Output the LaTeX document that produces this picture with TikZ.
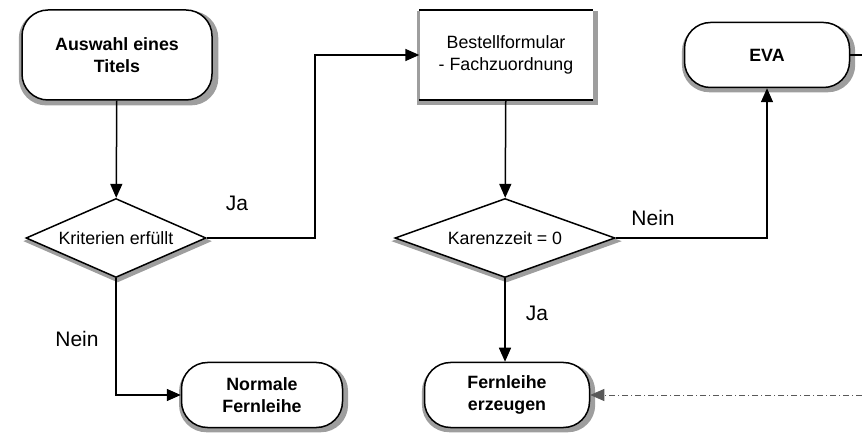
\documentclass[tikz,border=0pt]{standalone}
\usepackage{fontspec}
\setmainfont{Liberation Sans}
\usetikzlibrary{shapes.geometric,arrows.meta,shadows}

\begin{document}
\begin{tikzpicture}[x=1pt,y=-1pt,
  schatten/.style={drop shadow={shadow xshift=1.5pt,shadow yshift=-3pt,shadow scale=1.05,fill=black!38,opacity=1}},
  terminal/.style={draw,line width=1.5pt,fill=white,rounded corners=26pt,align=center,
    inner sep=0pt,font=\fontsize{17.8}{22}\selectfont\bfseries,schatten},
  prozess/.style={fill=white,align=center,inner sep=0pt,
    font=\fontsize{17.8}{22}\selectfont,schatten},
  entscheid/.style={diamond,draw,line width=1.5pt,fill=white,inner sep=0pt,
    font=\fontsize{17.8}{22}\selectfont,schatten},
  marke/.style={font=\fontsize{21}{25}\selectfont},
  flow/.style={line width=1.5pt,-{Triangle[length=14pt,width=12pt]}},
  dotflow/.style={line width=0.8pt,black!65,dash pattern=on 6pt off 3pt on 1pt off 3pt,
    -{Triangle[length=14pt,width=12pt]}}]
\useasboundingbox (0,0) rectangle (862,435);

% Knoten
\node[terminal,minimum width=190pt,minimum height=90pt] (auswahl) at (117,55) {Auswahl eines\\Titels};
\node[prozess,minimum width=173pt,minimum height=90pt] (bestell) at (506,55) {Bestellformular\\- Fachzuordnung};
\draw[line width=1.5pt] (bestell.north west) -- (bestell.north east);
\draw[line width=1.5pt] (bestell.south west) -- (bestell.south east);
\node[terminal,minimum width=165pt,minimum height=65pt] (eva) at (767,55) {EVA};
\node[entscheid,aspect=2.28,minimum width=180pt,minimum height=79pt] (krit) at (116,238) {Kriterien erfüllt};
\node[entscheid,aspect=2.78,minimum width=220pt,minimum height=79pt] (karenz) at (505,238) {Karenzzeit = 0};
\node[terminal,minimum width=161pt,minimum height=65pt] (normal) at (262,395) {Normale\\Fernleihe};
\node[terminal,minimum width=165pt,minimum height=65pt] (fern) at (507,395) {Fernleihe\\erzeugen};

% Beschriftungen
\node[marke] (jaeins) at (237,203) {Ja};
\node[marke] (neineins) at (77,339) {Nein};
\node[marke] (neinzwei) at (653,218) {Nein};
\node[marke] (jazwei) at (537,313) {Ja};

% Pfeile
\coordinate (randeva) at (862,55);
\coordinate (randfern) at (862,395);
\draw[flow] (auswahl) -- (krit);
\draw[flow] (krit.east) -- ++(108,0) |- (bestell.west);
\draw[flow] (bestell) -- (karenz);
\draw[flow] (karenz.east) -| (eva.south);
\draw[flow] (karenz.south) -- (karenz.south |- fern.north);
\draw[flow] (krit.south) |- (normal.west);
\draw[line width=1.5pt] (eva.east) -- (randeva);
\draw[dotflow] (randfern) -- (fern.east);
\end{tikzpicture}
\end{document}
